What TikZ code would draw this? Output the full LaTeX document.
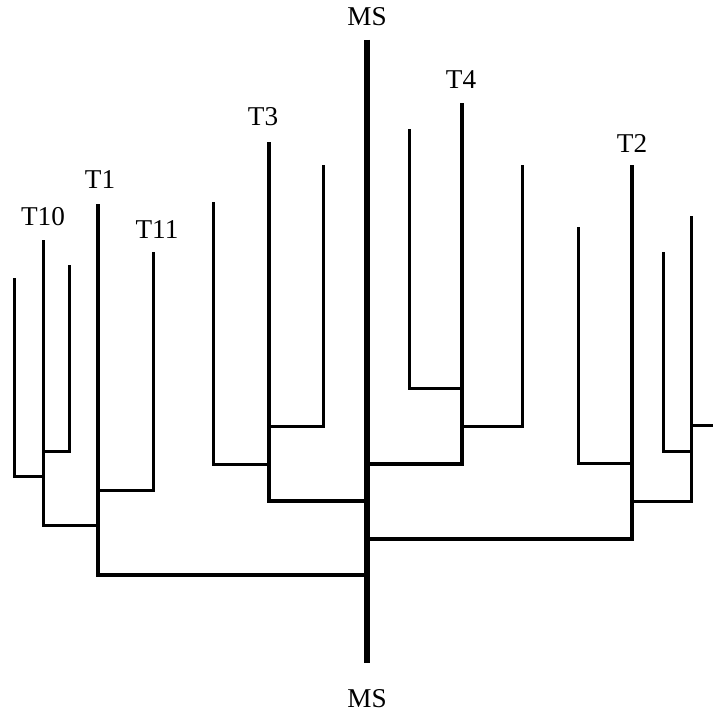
\documentclass[tikz,border=0pt]{standalone}
\usepackage{fontspec}
\setmainfont{Liberation Serif}
\begin{document}
\begin{tikzpicture}
    [x=0.5pt,y=-0.5pt,
     stem/.style={line width=2.6pt},
     trunk/.style={line width=2.1pt},
     twig/.style={line width=1.5pt},
     lbl/.style={font=\fontsize{13.6}{16}\selectfont,inner sep=0pt}]
		\useasboundingbox (0,0) rectangle (712,717);

		% main stem
		\coordinate (mstop) at (367,40);
		\coordinate (msbot) at (367,663);
		\node [lbl] (mslbla) at (367,17) {MS};
		\node [lbl] (mslblb) at (367,699) {MS};
		\coordinate (j1) at (367,575);
		\coordinate (j2) at (367,539);
		\coordinate (j3) at (367,501);
		\coordinate (j4) at (367,464);

		% tips of the trunks
		\coordinate (t1) at (98,204);
		\coordinate (t2) at (632,165);
		\coordinate (t3) at (269,142);
		\coordinate (t4) at (462,103);
		\node [lbl] (t1lbl) at (100,180) {T1};
		\node [lbl] (t2lbl) at (632,143) {T2};
		\node [lbl] (t3lbl) at (263,117) {T3};
		\node [lbl] (t4lbl) at (461,80) {T4};
		\node [lbl] (t10lbl) at (43,217) {T10};
		\node [lbl] (t11lbl) at (157,230) {T11};

		\draw[stem] (mstop) -- (msbot);
		\draw[trunk] (j1) -- (98,575) -- (t1);
		\draw[trunk] (j2) -- (632,539) -- (t2);
		\draw[trunk] (j3) -- (269,501) -- (t3);
		\draw[trunk] (j4) -- (462,464) -- (t4);

		% T1
		\draw[twig] (98,490) -- (153,490) -- (153,252);
		\draw[twig] (98,525) -- (43,525) -- (43,240);
		\draw[twig] (43,451) -- (69,451) -- (69,265);
		\draw[twig] (43,476) -- (14,476) -- (14,278);

		% T3
		\draw[twig] (269,464) -- (213,464) -- (213,202);
		\draw[twig] (269,426) -- (323,426) -- (323,165);

		% T4
		\draw[twig] (462,388) -- (409,388) -- (409,129);
		\draw[twig] (462,426) -- (522,426) -- (522,165);

		% T2
		\draw[twig] (632,463) -- (578,463) -- (578,227);
		\draw[twig] (632,501) -- (691,501) -- (691,216);
		\draw[twig] (691,451) -- (663,451) -- (663,252);
		\draw[twig] (691,425) -- (714,425);
\end{tikzpicture}
\end{document}
